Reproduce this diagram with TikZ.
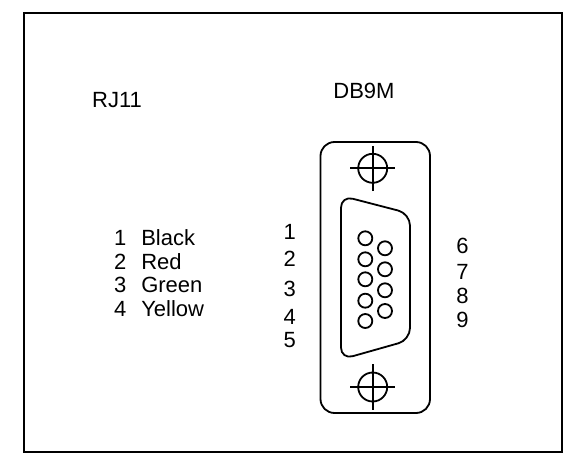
\documentclass[tikz,border=0pt]{standalone}
\usepackage{fontspec}
\setmainfont{Liberation Sans}
\usetikzlibrary{matrix,positioning}
\tikzset{
	lbl/.style={inner sep=0pt, font=\fontsize{22}{22}\selectfont, text height=15.5pt, text depth=0pt},
	pin/.style={circle, draw, line width=1.8pt, minimum size=14pt, inner sep=0pt},
	part/.style={line width=1.8pt},
}
\begin{document}
\begin{tikzpicture}[x=1pt, y=-1pt]
	  \useasboundingbox (0,0) rectangle (563,461);
	  \draw[line width=2pt] (23.5,13) rectangle (561.5,451.5);
	  \node[lbl] (rj) at (117,99.5) {RJ11};
	  \node[lbl] (db) at (364,90.5) {DB9M};
	  \matrix (wires) [matrix of nodes, anchor=north west, row sep=8.2pt, column sep=15pt,
	    nodes={lbl}, column 2/.style={nodes={anchor=base west}}, column 1/.style={nodes={anchor=base}}]
	    at (110.5,226.5)
	  {
		1	&	Black \\
		2	&	Red \\
		3	&	Green \\
		4	&	Yellow \\
	  };
	  % shell and shield
	  \draw[part, rounded corners=14pt] (320.5,142) rectangle (430,413);
	  \draw[part, rounded corners=12pt] (341,195.7) -- (410,213.6) -- (410,340) -- (341,359.5) -- cycle;
	  % screws
	  \foreach \name/\yy in {top/168.3, bot/387} {
		\node[circle, draw, line width=1.8pt, minimum size=29pt, inner sep=0pt] (screw\name) at (372.7,\yy) {};
		\draw[part] ([xshift=-22.7pt]screw\name.center) -- ([xshift=22.7pt]screw\name.center);
		\draw[part] ([yshift=-22.7pt]screw\name.center) -- ([yshift=22.7pt]screw\name.center);
	  }
	  % contacts
	  \foreach \i/\yy in {1/238.3, 2/259.3, 3/279.3, 4/300.7, 5/321}
		\node[pin] (p\i) at (365.3,\yy) {};
	  \foreach \i/\yy in {6/248.3, 7/269.3, 8/290.3, 9/311}
		\node[pin] (p\i) at (385,\yy) {};
	  % numbers
	  \foreach \i/\yy in {1/231.7, 2/258.3, 3/288.3, 4/316.7, 5/340}
		\node[lbl] (n\i) at (289.8,\yy) {\i};
	  \foreach \i/\yy in {6/246, 7/271.7, 8/296, 9/320}
		\node[lbl] (n\i) at (462.5,\yy) {\i};
	\end{tikzpicture}
\end{document}
